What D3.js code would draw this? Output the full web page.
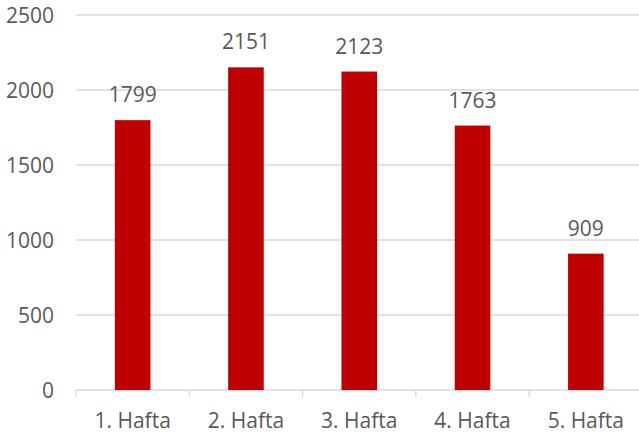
<!DOCTYPE html>
<html>
<head>
<meta charset="utf-8">
<script src="https://cdn.jsdelivr.net/npm/d3@7"></script>
<style>
  body { margin: 0; background: #fff; }
  svg { display: block; }
  text { font-family: "Open Sans", sans-serif; fill: #595959; }
</style>
</head>
<body>
<div id="chart"></div>
<script>
var categories = ["1. Hafta", "2. Hafta", "3. Hafta", "4. Hafta", "5. Hafta"];
var values = [1799, 2151, 2123, 1763, 909];
var yTicks = [0, 500, 1000, 1500, 2000, 2500];

var width = 639, height = 438;

var x = d3.scaleBand()
  .domain(categories)
  .range([76, 642.5])
  .paddingInner(0.686)
  .paddingOuter(0.343);

var y = d3.scaleLinear()
  .domain([0, 2500])
  .range([390, 15]);

var svg = d3.select("#chart").append("svg")
  .attr("width", width)
  .attr("height", height);

// gridlines
svg.selectAll(".grid")
  .data(yTicks)
  .enter().append("line")
  .attr("class", "grid")
  .attr("x1", 76)
  .attr("x2", 642.5)
  .attr("y1", function (d) { return y(d); })
  .attr("y2", function (d) { return y(d); })
  .style("stroke", "#d9d9d9")
  .style("stroke-width", 1.3);

// y labels
svg.selectAll(".ylab")
  .data(yTicks)
  .enter().append("text")
  .attr("class", "ylab")
  .attr("x", 54)
  .attr("y", function (d) { return y(d); })
  .attr("dy", "0.36em")
  .attr("text-anchor", "end")
  .style("font-size", "21px")
  .text(function (d) { return d; });

// bars
svg.selectAll(".bar")
  .data(values)
  .enter().append("rect")
  .attr("class", "bar")
  .attr("x", function (d, i) { return x(categories[i]); })
  .attr("width", x.bandwidth())
  .attr("y", function (d) { return y(d); })
  .attr("height", function (d) { return y(0) - y(d); })
  .style("fill", "#c00000");

// value labels
svg.selectAll(".vlab")
  .data(values)
  .enter().append("text")
  .attr("class", "vlab")
  .attr("x", function (d, i) { return x(categories[i]) + x.bandwidth() / 2; })
  .attr("y", function (d) { return y(d) - 18; })
  .attr("text-anchor", "middle")
  .style("font-size", "21px")
  .text(function (d) { return d; });

// x axis
var step = x.step();
var boundaries = categories.map(function (c) { return x(c) - x.paddingOuter() * step; });
svg.selectAll(".xtick")
  .data(boundaries)
  .enter().append("line")
  .attr("x1", function (d) { return d; })
  .attr("x2", function (d) { return d; })
  .attr("y1", y(0))
  .attr("y2", y(0) + 7)
  .style("stroke", "#d9d9d9")
  .style("stroke-width", 1.3);

svg.selectAll(".xlab")
  .data(categories)
  .enter().append("text")
  .attr("class", "xlab")
  .attr("x", function (d) { return x(d) + x.bandwidth() / 2; })
  .attr("y", 428)
  .attr("text-anchor", "middle")
  .style("font-size", "21px")
  .text(function (d) { return d; });
</script>
</body>
</html>
